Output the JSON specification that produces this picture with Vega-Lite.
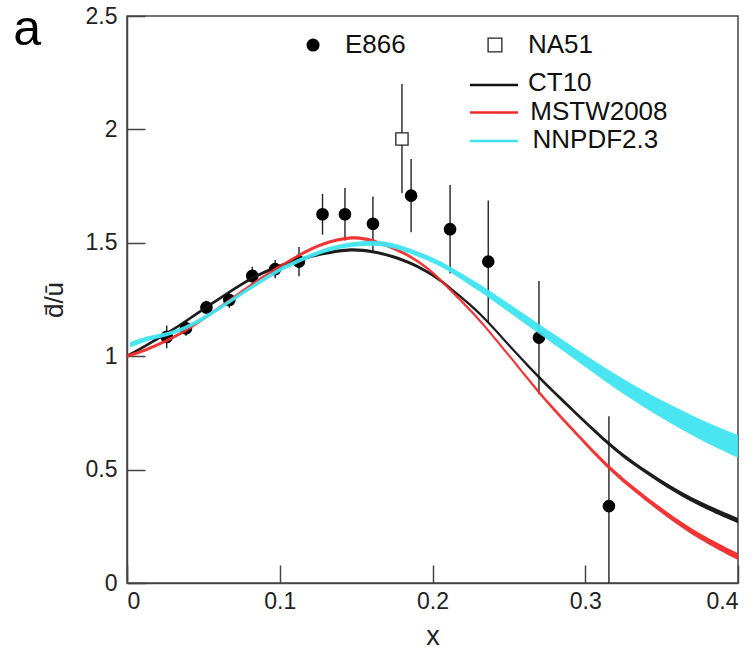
{
  "$schema": "https://vega.github.io/schema/vega-lite/v6.json",
  "width": 611,
  "height": 567,
  "autosize": {"type": "none"},
  "padding": {"left": 127, "top": 16, "right": 18, "bottom": 67},
  "background": "white",
  "config": {
    "view": {"stroke": "#444", "strokeWidth": 1.5},
    "font": "Liberation Sans",
    "axis": {
      "grid": false,
      "domainColor": "#444",
      "domainWidth": 1.5,
      "tickColor": "#444",
      "tickWidth": 1.5
    }
  },
  "datasets": {
    "curves": [
      {"series": "CT10", "x": 0, "lo": 0.993, "hi": 1.007},
      {"series": "CT10", "x": 0.013, "lo": 1.042, "hi": 1.056},
      {"series": "CT10", "x": 0.026, "lo": 1.093, "hi": 1.107},
      {"series": "CT10", "x": 0.04, "lo": 1.153, "hi": 1.167},
      {"series": "CT10", "x": 0.052, "lo": 1.210, "hi": 1.224},
      {"series": "CT10", "x": 0.067, "lo": 1.276, "hi": 1.290},
      {"series": "CT10", "x": 0.082, "lo": 1.340, "hi": 1.354},
      {"series": "CT10", "x": 0.097, "lo": 1.386, "hi": 1.400},
      {"series": "CT10", "x": 0.1126, "lo": 1.419, "hi": 1.433},
      {"series": "CT10", "x": 0.128, "lo": 1.446, "hi": 1.460},
      {"series": "CT10", "x": 0.145, "lo": 1.466, "hi": 1.480},
      {"series": "CT10", "x": 0.161, "lo": 1.456, "hi": 1.470},
      {"series": "CT10", "x": 0.175, "lo": 1.432, "hi": 1.446},
      {"series": "CT10", "x": 0.186, "lo": 1.403, "hi": 1.417},
      {"series": "CT10", "x": 0.2, "lo": 1.355, "hi": 1.369},
      {"series": "CT10", "x": 0.2115, "lo": 1.294, "hi": 1.308},
      {"series": "CT10", "x": 0.225, "lo": 1.219, "hi": 1.233},
      {"series": "CT10", "x": 0.2365, "lo": 1.144, "hi": 1.158},
      {"series": "CT10", "x": 0.255, "lo": 1.004, "hi": 1.018},
      {"series": "CT10", "x": 0.27, "lo": 0.896, "hi": 0.912},
      {"series": "CT10", "x": 0.29, "lo": 0.765, "hi": 0.781},
      {"series": "CT10", "x": 0.3155, "lo": 0.601, "hi": 0.619},
      {"series": "CT10", "x": 0.331, "lo": 0.520, "hi": 0.538},
      {"series": "CT10", "x": 0.3535, "lo": 0.418, "hi": 0.438},
      {"series": "CT10", "x": 0.375, "lo": 0.336, "hi": 0.358},
      {"series": "CT10", "x": 0.4, "lo": 0.263, "hi": 0.287},
      {"series": "MSTW2008", "x": 0, "lo": 0.993, "hi": 1.007},
      {"series": "MSTW2008", "x": 0.013, "lo": 1.021, "hi": 1.035},
      {"series": "MSTW2008", "x": 0.026, "lo": 1.061, "hi": 1.075},
      {"series": "MSTW2008", "x": 0.0386, "lo": 1.105, "hi": 1.119},
      {"series": "MSTW2008", "x": 0.052, "lo": 1.167, "hi": 1.181},
      {"series": "MSTW2008", "x": 0.067, "lo": 1.238, "hi": 1.252},
      {"series": "MSTW2008", "x": 0.082, "lo": 1.311, "hi": 1.325},
      {"series": "MSTW2008", "x": 0.097, "lo": 1.377, "hi": 1.391},
      {"series": "MSTW2008", "x": 0.1126, "lo": 1.439, "hi": 1.453},
      {"series": "MSTW2008", "x": 0.128, "lo": 1.492, "hi": 1.506},
      {"series": "MSTW2008", "x": 0.148, "lo": 1.523, "hi": 1.537},
      {"series": "MSTW2008", "x": 0.161, "lo": 1.504, "hi": 1.518},
      {"series": "MSTW2008", "x": 0.175, "lo": 1.469, "hi": 1.483},
      {"series": "MSTW2008", "x": 0.186, "lo": 1.432, "hi": 1.446},
      {"series": "MSTW2008", "x": 0.2, "lo": 1.366, "hi": 1.380},
      {"series": "MSTW2008", "x": 0.2115, "lo": 1.286, "hi": 1.300},
      {"series": "MSTW2008", "x": 0.225, "lo": 1.196, "hi": 1.210},
      {"series": "MSTW2008", "x": 0.2365, "lo": 1.108, "hi": 1.122},
      {"series": "MSTW2008", "x": 0.2494, "lo": 1.002, "hi": 1.016},
      {"series": "MSTW2008", "x": 0.27, "lo": 0.827, "hi": 0.843},
      {"series": "MSTW2008", "x": 0.29, "lo": 0.679, "hi": 0.697},
      {"series": "MSTW2008", "x": 0.3155, "lo": 0.495, "hi": 0.515},
      {"series": "MSTW2008", "x": 0.331, "lo": 0.407, "hi": 0.429},
      {"series": "MSTW2008", "x": 0.3535, "lo": 0.288, "hi": 0.312},
      {"series": "MSTW2008", "x": 0.375, "lo": 0.189, "hi": 0.215},
      {"series": "MSTW2008", "x": 0.4, "lo": 0.101, "hi": 0.131},
      {"series": "NNPDF2.3", "x": 0.002, "lo": 1.038, "hi": 1.062},
      {"series": "NNPDF2.3", "x": 0.0135, "lo": 1.070, "hi": 1.090},
      {"series": "NNPDF2.3", "x": 0.026, "lo": 1.085, "hi": 1.103},
      {"series": "NNPDF2.3", "x": 0.0386, "lo": 1.115, "hi": 1.133},
      {"series": "NNPDF2.3", "x": 0.052, "lo": 1.165, "hi": 1.183},
      {"series": "NNPDF2.3", "x": 0.067, "lo": 1.231, "hi": 1.249},
      {"series": "NNPDF2.3", "x": 0.082, "lo": 1.297, "hi": 1.315},
      {"series": "NNPDF2.3", "x": 0.097, "lo": 1.363, "hi": 1.381},
      {"series": "NNPDF2.3", "x": 0.1126, "lo": 1.414, "hi": 1.432},
      {"series": "NNPDF2.3", "x": 0.128, "lo": 1.455, "hi": 1.475},
      {"series": "NNPDF2.3", "x": 0.1427, "lo": 1.480, "hi": 1.500},
      {"series": "NNPDF2.3", "x": 0.161, "lo": 1.491, "hi": 1.513},
      {"series": "NNPDF2.3", "x": 0.175, "lo": 1.477, "hi": 1.499},
      {"series": "NNPDF2.3", "x": 0.186, "lo": 1.451, "hi": 1.473},
      {"series": "NNPDF2.3", "x": 0.2, "lo": 1.413, "hi": 1.437},
      {"series": "NNPDF2.3", "x": 0.2115, "lo": 1.373, "hi": 1.397},
      {"series": "NNPDF2.3", "x": 0.231, "lo": 1.284, "hi": 1.316},
      {"series": "NNPDF2.3", "x": 0.2365, "lo": 1.260, "hi": 1.294},
      {"series": "NNPDF2.3", "x": 0.2697, "lo": 1.099, "hi": 1.141},
      {"series": "NNPDF2.3", "x": 0.2966, "lo": 0.970, "hi": 1.020},
      {"series": "NNPDF2.3", "x": 0.329, "lo": 0.811, "hi": 0.879},
      {"series": "NNPDF2.3", "x": 0.362, "lo": 0.680, "hi": 0.764},
      {"series": "NNPDF2.3", "x": 0.38, "lo": 0.614, "hi": 0.706},
      {"series": "NNPDF2.3", "x": 0.4, "lo": 0.552, "hi": 0.652}
    ],
    "e866": [
      {"x": 0.026, "y": 1.085, "lo": 1.035, "hi": 1.135},
      {"x": 0.0386, "y": 1.123, "lo": 1.09, "hi": 1.156},
      {"x": 0.052, "y": 1.215, "lo": 1.185, "hi": 1.245},
      {"x": 0.067, "y": 1.248, "lo": 1.213, "hi": 1.283},
      {"x": 0.082, "y": 1.354, "lo": 1.314, "hi": 1.394},
      {"x": 0.097, "y": 1.384, "lo": 1.344, "hi": 1.424},
      {"x": 0.1126, "y": 1.417, "lo": 1.352, "hi": 1.482},
      {"x": 0.128, "y": 1.626, "lo": 1.536, "hi": 1.716},
      {"x": 0.1427, "y": 1.626, "lo": 1.51, "hi": 1.742},
      {"x": 0.161, "y": 1.584, "lo": 1.464, "hi": 1.704},
      {"x": 0.186, "y": 1.708, "lo": 1.546, "hi": 1.87},
      {"x": 0.2115, "y": 1.56, "lo": 1.365, "hi": 1.755},
      {"x": 0.2365, "y": 1.417, "lo": 1.147, "hi": 1.687},
      {"x": 0.2697, "y": 1.082, "lo": 0.832, "hi": 1.332},
      {"x": 0.3155, "y": 0.339, "lo": 0, "hi": 0.735}
    ],
    "na51": [
      {"x": 0.18, "y": 1.958, "lo": 1.72, "hi": 2.2}
    ],
    "legendLines": [
      {"series": "CT10", "x1": 0.2245, "x2": 0.256, "y": 2.196, "tx": 0.2625, "ty": 2.205},
      {"series": "MSTW2008", "x1": 0.2245, "x2": 0.256, "y": 2.074, "tx": 0.264, "ty": 2.077},
      {"series": "NNPDF2.3", "x1": 0.2245, "x2": 0.256, "y": 1.949, "tx": 0.2655, "ty": 1.953}
    ],
    "legendSymbols": [
      {"label": "E866", "sx": 0.1218, "tx": 0.1427, "y": 2.372},
      {"label": "NA51", "sx": 0.2409, "tx": 0.2625, "y": 2.372}
    ]
  },
  "encoding": {
    "x": {
      "type": "quantitative",
      "scale": {"domain": [0, 0.4], "nice": false, "zero": false},
      "axis": {"title": "x", "values": [0, 0.1, 0.2, 0.3, 0.4], "format": "~g", "tickSize": -18, "labelPadding": 25,
        "labelFont": "Liberation Sans", "labelFontSize": 23, "labelColor": "#222",
        "titleFont": "Liberation Sans", "titleFontSize": 27, "titleFontWeight": "normal", "titleColor": "#222", "titlePadding": 10}
    },
    "y": {
      "type": "quantitative",
      "scale": {"domain": [0, 2.5], "nice": false, "zero": false},
      "axis": {"title": "d̄/ū", "values": [0, 0.5, 1, 1.5, 2, 2.5], "format": "~g", "tickSize": -18, "labelPadding": 28,
        "labelFont": "Liberation Sans", "labelFontSize": 23, "labelColor": "#222",
        "titleFont": "Liberation Sans", "titleFontSize": 26, "titleFontWeight": "normal", "titleColor": "#222", "titlePadding": 18}
    }
  },
  "layer": [
    {
      "mark": {"type": "rule", "color": "#555", "strokeWidth": 1.5, "strokeDash": [10, 7]},
      "encoding": {"x": {"datum": 0}, "x2": {"datum": 0.4}, "y": {"datum": 1}}
    },
    {
      "data": {"name": "e866"},
      "mark": {"type": "rule", "color": "#222", "strokeWidth": 1.4},
      "encoding": {"x": {"field": "x"}, "y": {"field": "lo"}, "y2": {"field": "hi"}}
    },
    {
      "data": {"name": "na51"},
      "mark": {"type": "rule", "color": "#222", "strokeWidth": 1.4},
      "encoding": {"x": {"field": "x"}, "y": {"field": "lo"}, "y2": {"field": "hi"}}
    },
    {
      "data": {"name": "e866"},
      "mark": {"type": "point", "shape": "circle", "filled": true, "color": "black", "size": 160, "opacity": 1},
      "encoding": {"x": {"field": "x"}, "y": {"field": "y"}}
    },
    {
      "data": {"name": "na51"},
      "mark": {"type": "point", "shape": "square", "filled": true, "fill": "white", "stroke": "#222", "strokeWidth": 1.3, "size": 150, "opacity": 1},
      "encoding": {"x": {"field": "x"}, "y": {"field": "y"}}
    },
    {
      "data": {"name": "curves"},
      "mark": {"type": "area", "interpolate": "basis", "opacity": 0.95},
      "encoding": {
        "x": {"field": "x"},
        "y": {"field": "lo"},
        "y2": {"field": "hi"},
        "color": {"field": "series", "type": "nominal", "scale": {"domain": ["CT10", "MSTW2008", "NNPDF2.3"], "range": ["#111111", "#f02a2a", "#3fe4ef"]}, "legend": null}
      }
    },
    {
      "data": {"name": "legendLines"},
      "mark": {"type": "rule", "strokeWidth": 2.5},
      "encoding": {
        "x": {"field": "x1"}, "x2": {"field": "x2"}, "y": {"field": "y"},
        "color": {"field": "series", "type": "nominal", "scale": {"domain": ["CT10", "MSTW2008", "NNPDF2.3"], "range": ["#111111", "#f02a2a", "#3fe4ef"]}, "legend": null}
      }
    },
    {
      "data": {"name": "legendLines"},
      "mark": {"type": "text", "align": "left", "baseline": "middle", "fontSize": 26, "color": "#111", "font": "Liberation Sans"},
      "encoding": {"x": {"field": "tx"}, "y": {"field": "ty"}, "text": {"field": "series"}}
    },
    {
      "data": {"name": "legendSymbols"},
      "transform": [{"filter": "datum.label == 'E866'"}],
      "mark": {"type": "point", "shape": "circle", "filled": true, "color": "black", "size": 170, "opacity": 1},
      "encoding": {"x": {"field": "sx"}, "y": {"field": "y"}}
    },
    {
      "data": {"name": "legendSymbols"},
      "transform": [{"filter": "datum.label == 'NA51'"}],
      "mark": {"type": "point", "shape": "square", "filled": true, "fill": "white", "stroke": "#222", "strokeWidth": 1.3, "size": 190, "opacity": 1},
      "encoding": {"x": {"field": "sx"}, "y": {"field": "y"}}
    },
    {
      "data": {"name": "legendSymbols"},
      "mark": {"type": "text", "align": "left", "baseline": "middle", "fontSize": 26, "color": "#111", "font": "Liberation Sans"},
      "encoding": {"x": {"field": "tx"}, "y": {"field": "y"}, "text": {"field": "label"}}
    },
    {
      "data": {"values": [{"label": "a", "x": -0.0745, "y": 2.37}]},
      "mark": {"type": "text", "align": "left", "baseline": "alphabetic", "fontSize": 50, "color": "#000", "font": "Liberation Sans"},
      "encoding": {"x": {"field": "x"}, "y": {"field": "y"}, "text": {"field": "label"}}
    }
  ]
}
